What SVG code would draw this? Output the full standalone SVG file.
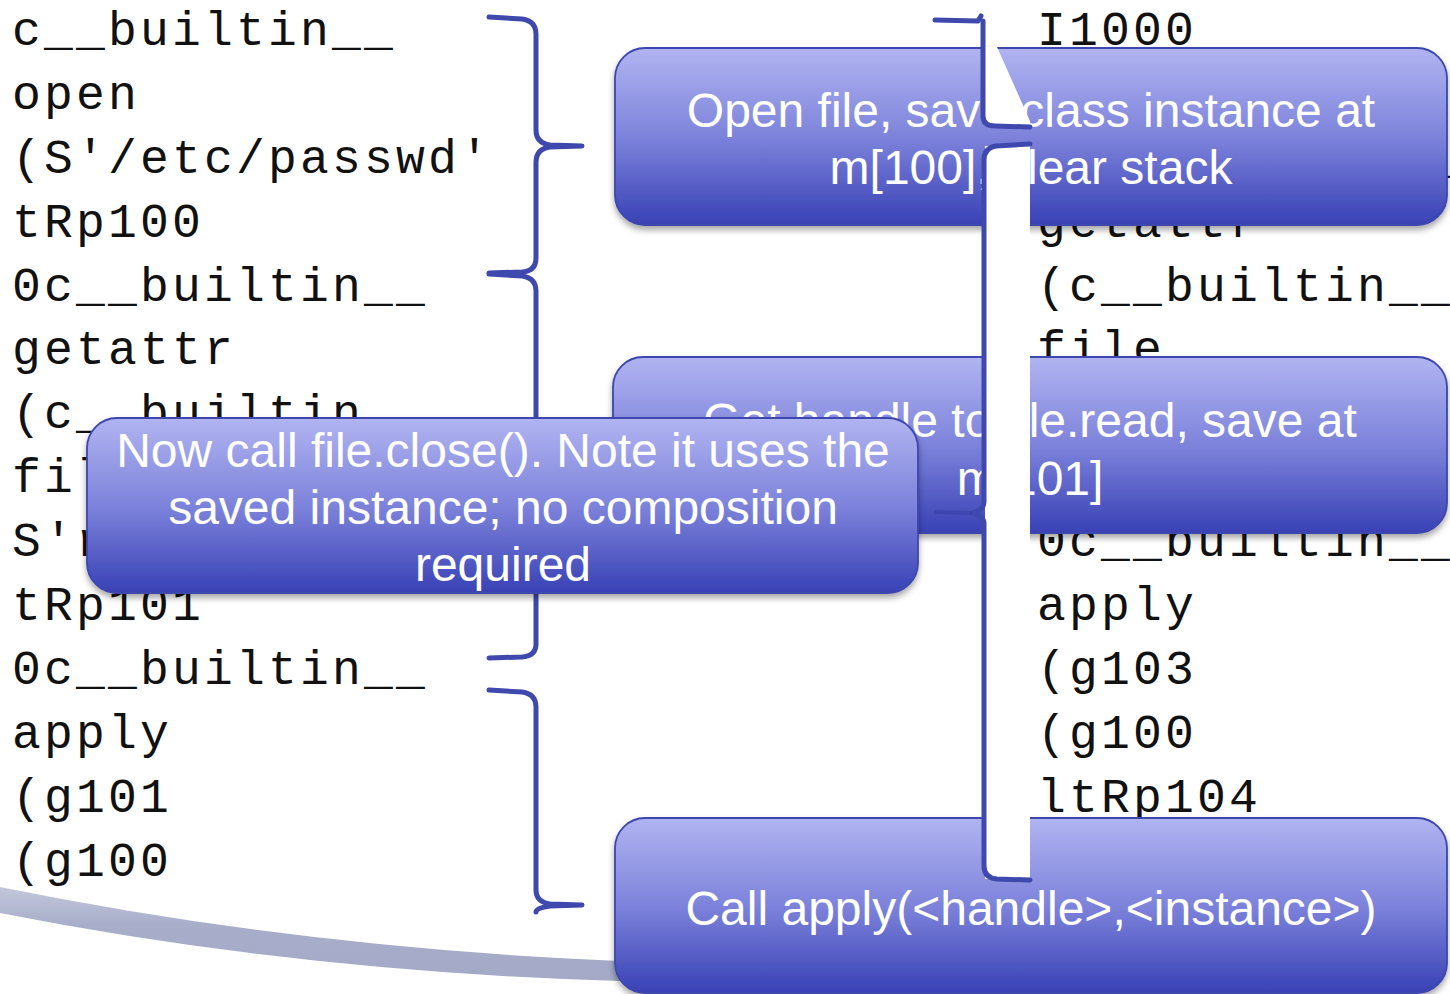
<svg xmlns="http://www.w3.org/2000/svg" width="1450" height="994" viewBox="0 0 1450 994">
  <defs>
    <linearGradient id="boxFill" x1="0" y1="0" x2="0" y2="1">
      <stop offset="0" stop-color="#b1b4f1"/>
      <stop offset="0.5" stop-color="#7d83db"/>
      <stop offset="1" stop-color="#3941b5"/>
    </linearGradient>
    <linearGradient id="swooshFill" x1="0" y1="0" x2="0" y2="1">
      <stop offset="0" stop-color="#c3c7dc"/>
      <stop offset="0.4" stop-color="#a8aeca"/>
      <stop offset="1" stop-color="#a3a9c6"/>
    </linearGradient>
    <filter id="shadow" x="-5%" y="-10%" width="110%" height="130%">
      <feDropShadow dx="0" dy="4" stdDeviation="3" flood-color="#000" flood-opacity="0.35"/>
    </filter>
    <style>
      .code { font-family: "Liberation Mono", "DejaVu Sans Mono", monospace; font-size: 48px; letter-spacing: 3.2px; fill: #111; }
      .box { fill: url(#boxFill); stroke: #3d46ae; stroke-width: 1.8; filter: url(#shadow); }
      .label { font-family: "Liberation Sans", Arial, sans-serif; font-size: 48px; fill: #fff; text-anchor: middle; }
      .brace { fill: none; stroke: #3f49ad; stroke-width: 5; stroke-linecap: round; stroke-linejoin: round; }
    </style>
  </defs>

  <rect width="1450" height="994" fill="#fff"/>

  <!-- decorative swoosh along the bottom -->
  <path d="M0,887 Q300,948 620,961 L620,981 Q300,972 0,913 Z" fill="url(#swooshFill)"/>

  <!-- pickle listing, first column -->
  <g id="code-left">
    <text class="code" x="12" y="45">c__builtin__</text>
    <text class="code" x="12" y="109">open</text>
    <text class="code" x="12" y="173">(S'/etc/passwd'</text>
    <text class="code" x="12" y="237">tRp100</text>
    <text class="code" x="12" y="301">0c__builtin__</text>
    <text class="code" x="12" y="364">getattr</text>
    <text class="code" x="12" y="428">(c__builtin__</text>
    <text class="code" x="12" y="492">file</text>
    <text class="code" x="12" y="556">S'read'</text>
    <text class="code" x="12" y="620">tRp101</text>
    <text class="code" x="12" y="684">0c__builtin__</text>
    <text class="code" x="12" y="748">apply</text>
    <text class="code" x="12" y="812">(g101</text>
    <text class="code" x="12" y="876">(g100</text>
  </g>

  <!-- pickle listing, second column -->
  <g id="code-right">
    <text class="code" x="1037" y="45">I1000</text>
    <text class="code" x="1037" y="173">0c__builtin__</text>
    <text class="code" x="1037" y="237">getattr</text>
    <text class="code" x="1037" y="301">(c__builtin__</text>
    <text class="code" x="1037" y="364">file</text>
    <text class="code" x="1037" y="556">0c__builtin__</text>
    <text class="code" x="1037" y="620">apply</text>
    <text class="code" x="1037" y="684">(g103</text>
    <text class="code" x="1037" y="748">(g100</text>
    <text class="code" x="1037" y="812">ltRp104</text>
  </g>

  <!-- braces grouping the listing -->
  <g id="connectors">
    <path class="brace" d="M489,17 L522,19 Q536,21 536,34 L536,130 Q536,143 550,145 L582,146 M582,146 L550,147 Q536,149 536,162 L536,258 Q536,271 522,272 L489,273"/>
    <path class="brace" d="M489,274 L522,276 Q536,278 536,291 L536,452 Q536,464 550,466 L582,467 M582,467 L550,468 Q536,470 536,482 L536,644 Q536,656 522,657 L489,658"/>
    <path class="brace" d="M489,690 L522,692 Q536,694 536,707 L536,890 Q536,902 550,904 L582,905 M582,905 L550,906 Q536,908 536,912"/>
  </g>

  <g id="box-open">
    <rect class="box" x="615" y="48" width="832" height="177" rx="30"/>
    <text class="label" x="1031" y="127">Open file, save class instance at</text>
    <text class="label" x="1031" y="184">m[100], clear stack</text>
  </g>

  <g id="box-handle">
    <rect class="box" x="613" y="357" width="834" height="176" rx="30"/>
    <text class="label" x="1030" y="437">Get handle to file.read, save at</text>
    <text class="label" x="1030" y="495">m[101]</text>
  </g>

  <g id="box-apply">
    <rect class="box" x="615" y="818" width="832" height="175" rx="30"/>
    <text class="label" x="1031" y="925">Call apply(&lt;handle&gt;,&lt;instance&gt;)</text>
  </g>

  <!-- blank strip cut through the right-hand boxes -->
  <g id="strip" fill="#fff">
    <polygon points="984,47 997,47 1030,121 1030,126 984,126"/>
    <rect x="985" y="146" width="45" height="733"/>
  </g>

  <!-- brace beside the second column -->
  <g id="connectors-right">
    <path class="brace" d="M935,20 L978,21 L981,16"/>
    <path class="brace" d="M983,21 L983,116 Q983,126 995,126 L1030,127"/>
    <path class="brace" d="M1030,144 L996,146 Q984,148 984,160 L984,502 Q984,510 973,513 Q984,516 984,524 L984,866 Q984,878 997,879 L1030,880"/>
    <path d="M934,512 L972,513" stroke="#2e3592" stroke-width="4" stroke-opacity="0.35" fill="none"/>
  </g>

  <g id="box-close">
    <rect class="box" x="87" y="418" width="831" height="175" rx="30"/>
    <text class="label" x="503" y="467">Now call file.close(). Note it uses the</text>
    <text class="label" x="503" y="524">saved instance; no composition</text>
    <text class="label" x="503" y="581">required</text>
  </g>
</svg>
